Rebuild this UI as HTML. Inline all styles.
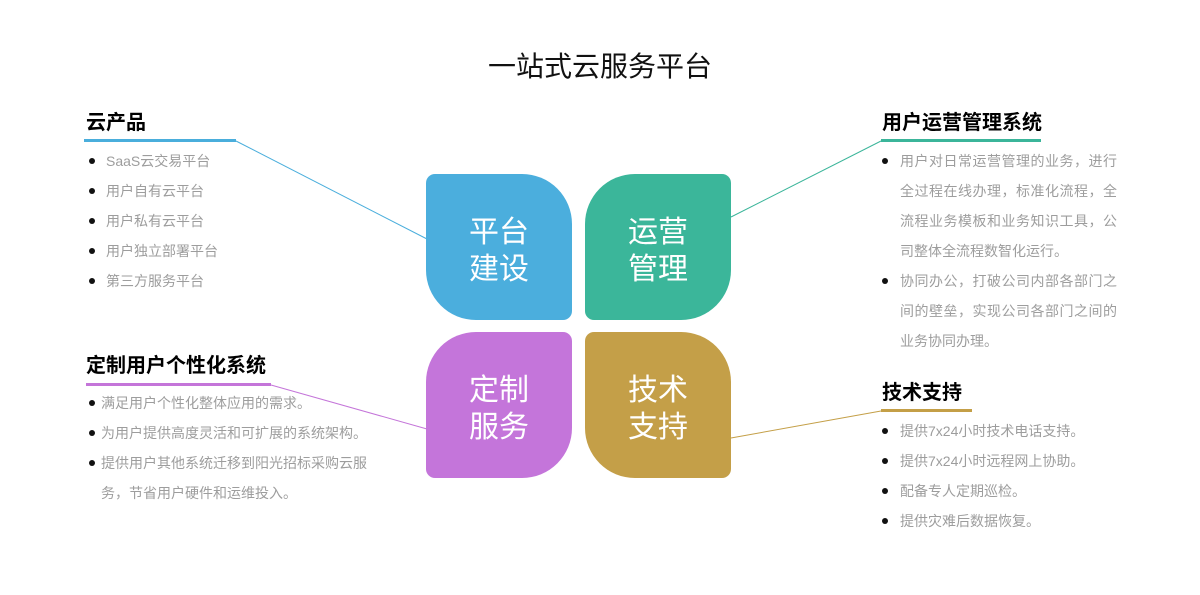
<!DOCTYPE html>
<html><head><meta charset="utf-8">
<style>
html,body{margin:0;padding:0;background:#fff;}
body{width:1200px;height:595px;position:relative;overflow:hidden;font-family:"Liberation Sans","Noto Sans CJK SC",sans-serif;}
.abs{position:absolute;}
.title{position:absolute;left:0;width:1200px;top:49px;line-height:36px;font-size:28px;text-align:center;color:#111;font-family:"Liberation Sans","Noto Sans CJK SC",sans-serif;}
.hdr{position:absolute;font-size:20px;font-weight:bold;color:#000;line-height:24px;white-space:nowrap;}
.ul{position:absolute;height:3px;}
.tile{position:absolute;width:146px;height:146px;color:#fff;font-size:30px;line-height:37px;text-align:center;}
.tile span{position:absolute;left:0;right:0;top:40px;}
.li{position:absolute;font-size:14px;line-height:20px;color:#9d9d9d;white-space:nowrap;}
.dot{position:absolute;width:6px;height:6px;border-radius:50%;background:#111;}
.jl{position:absolute;font-size:14px;line-height:20px;color:#9d9d9d;width:217px;text-align:justify;text-align-last:justify;white-space:nowrap;}
.jl.last{text-align-last:left;}
</style></head><body>
<div class="title">一站式云服务平台</div>

<svg class="abs" style="left:0;top:0" width="1200" height="595">
<line x1="236" y1="141" x2="427" y2="239" stroke="#4aaedc" stroke-width="1"/>
<line x1="881" y1="141" x2="731" y2="217" stroke="#3bb59a" stroke-width="1"/>
<line x1="271" y1="385" x2="427" y2="429" stroke="#c475d9" stroke-width="1"/>
<line x1="881" y1="411" x2="731" y2="438" stroke="#c49f47" stroke-width="1"/>
</svg>

<!-- tiles -->
<div class="tile" style="left:426px;top:174px;background:#4baedd;border-radius:9px 50px 9px 50px;"><span>平台<br>建设</span></div>
<div class="tile" style="left:585px;top:174px;background:#3bb69a;border-radius:50px 9px 50px 9px;"><span>运营<br>管理</span></div>
<div class="tile" style="left:426px;top:332px;background:#c475da;border-radius:50px 9px 50px 9px;"><span>定制<br>服务</span></div>
<div class="tile" style="left:585px;top:332px;background:#c49f48;border-radius:9px 50px 9px 50px;"><span>技术<br>支持</span></div>

<!-- top-left -->
<div class="hdr" style="left:86px;top:111px;">云产品</div>
<div class="ul" style="left:84px;top:139px;width:152px;background:#4aaedc;"></div>
<div class="dot" style="left:89px;top:158px;"></div><div class="li" style="left:106px;top:151px;">SaaS云交易平台</div>
<div class="dot" style="left:89px;top:188px;"></div><div class="li" style="left:106px;top:181px;">用户自有云平台</div>
<div class="dot" style="left:89px;top:218px;"></div><div class="li" style="left:106px;top:211px;">用户私有云平台</div>
<div class="dot" style="left:89px;top:248px;"></div><div class="li" style="left:106px;top:241px;">用户独立部署平台</div>
<div class="dot" style="left:89px;top:278px;"></div><div class="li" style="left:106px;top:271px;">第三方服务平台</div>

<!-- top-right -->
<div class="hdr" style="left:882px;top:111px;">用户运营管理系统</div>
<div class="ul" style="left:881px;top:139px;width:160px;background:#3bb59a;"></div>
<div class="dot" style="left:882px;top:158px;"></div>
<div class="jl" style="left:900px;top:151px;">用户对日常运营管理的业务，进行</div>
<div class="jl" style="left:900px;top:181px;">全过程在线办理，标准化流程，全</div>
<div class="jl" style="left:900px;top:211px;">流程业务模板和业务知识工具，公</div>
<div class="jl last" style="left:900px;top:241px;">司整体全流程数智化运行。</div>
<div class="dot" style="left:882px;top:278px;"></div>
<div class="jl" style="left:900px;top:271px;">协同办公，打破公司内部各部门之</div>
<div class="jl" style="left:900px;top:301px;">间的壁垒，实现公司各部门之间的</div>
<div class="jl last" style="left:900px;top:331px;">业务协同办理。</div>

<!-- bottom-left -->
<div class="hdr" style="left:86px;top:354px;">定制用户个性化系统</div>
<div class="ul" style="left:86px;top:383px;width:185px;background:#c475d9;"></div>
<div class="dot" style="left:89px;top:400px;"></div><div class="li" style="left:101px;top:393px;">满足用户个性化整体应用的需求。</div>
<div class="dot" style="left:89px;top:430px;"></div><div class="li" style="left:101px;top:423px;">为用户提供高度灵活和可扩展的系统架构。</div>
<div class="dot" style="left:89px;top:460px;"></div><div class="li" style="left:101px;top:453px;">提供用户其他系统迁移到阳光招标采购云服</div>
<div class="li" style="left:101px;top:483px;">务，节省用户硬件和运维投入。</div>

<!-- bottom-right -->
<div class="hdr" style="left:882px;top:381px;">技术支持</div>
<div class="ul" style="left:881px;top:409px;width:91px;background:#c49f47;"></div>
<div class="dot" style="left:882px;top:428px;"></div><div class="li" style="left:900px;top:421px;">提供7x24小时技术电话支持。</div>
<div class="dot" style="left:882px;top:458px;"></div><div class="li" style="left:900px;top:451px;">提供7x24小时远程网上协助。</div>
<div class="dot" style="left:882px;top:488px;"></div><div class="li" style="left:900px;top:481px;">配备专人定期巡检。</div>
<div class="dot" style="left:882px;top:518px;"></div><div class="li" style="left:900px;top:511px;">提供灾难后数据恢复。</div>
</body></html>
